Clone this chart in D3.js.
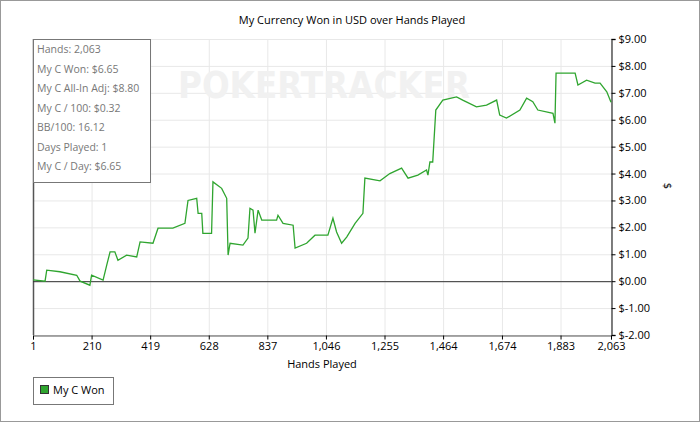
<!DOCTYPE html>
<html><head><meta charset="utf-8">
<script src="https://cdn.jsdelivr.net/npm/d3@7"></script>
<style>body{margin:0;background:#fff}svg{font-family:"DejaVu Sans",sans-serif}</style>
</head><body><svg id="c" width="700" height="422"></svg>
<script>
// hands played / cumulative winnings
const hands = [1,44,50,97,157,169,204,210,251,264,276,293,304,335,371,383,429,447,500,543,554,585,590,603,607,638,643,674,692,697,704,750,768,775,786,793,804,817,870,875,893,929,936,977,1007,1053,1071,1084,1102,1120,1150,1178,1185,1239,1274,1316,1339,1374,1405,1410,1417,1427,1438,1463,1512,1534,1583,1619,1655,1666,1690,1738,1762,1784,1802,1856,1863,1867,1935,1945,1976,2006,2024,2048,2063];
const won =   [0.05,0.0,0.41,0.35,0.22,0.0,-0.15,0.22,0.04,0.6,1.09,1.09,0.78,0.97,0.9,1.46,1.41,1.97,1.97,2.15,3.0,3.08,2.52,2.52,1.78,1.78,3.69,3.45,3.08,0.97,1.41,1.34,1.6,2.71,2.64,1.78,2.64,2.27,2.27,2.45,2.15,2.08,1.23,1.41,1.71,1.71,2.34,1.83,1.41,1.64,2.15,2.52,3.83,3.73,4.0,4.2,3.83,3.94,4.13,3.94,4.43,4.43,6.36,6.73,6.85,6.73,6.48,6.54,6.73,6.17,6.06,6.36,6.8,6.67,6.36,6.24,5.87,7.73,7.73,7.29,7.47,7.36,7.36,7.04,6.65];
const xTicks = [1,210,419,628,837,1046,1255,1464,1674,1883,2063];
const yTicks = [-2,-1,0,1,2,3,4,5,6,7,8,9];
const stats = ["Hands: 2,063","My C Won: $6.65","My C All-In Adj: $8.80","My C / 100: $0.32","BB/100: 16.12","Days Played: 1","My C / Day: $6.65"];

const svg = d3.select("#c");
const m = {left:33, right:611, top:39, bottom:335};
const x = d3.scaleLinear([1,2063],[m.left,m.right]);
const y = d3.scaleLinear([-2,9],[m.bottom,m.top]);
const money = v => (v<0?"$-":"$") + Math.abs(v).toFixed(2);

svg.append("rect").attr("x",0.5).attr("y",0.5).attr("width",699).attr("height",421)
  .attr("fill","#fff").attr("stroke","#999");
svg.append("text").attr("x",352).attr("y",24).attr("text-anchor","middle")
  .attr("font-size",11).attr("font-family","Open Sans").text("My Currency Won in USD over Hands Played");

// grid
svg.append("g").selectAll("line").data(yTicks).join("line")
  .attr("x1",m.left).attr("x2",m.right).attr("y1",d=>y(d)+.5).attr("y2",d=>y(d)+.5)
  .attr("stroke","#e8e8e8");
svg.append("g").selectAll("line").data(xTicks).join("line")
  .attr("y1",m.top).attr("y2",m.bottom).attr("x1",d=>x(d)+.5).attr("x2",d=>x(d)+.5)
  .attr("stroke","#e8e8e8");

// watermark
svg.append("text").attr("x",178).attr("y",98)
  .attr("font-size",38).attr("font-weight","bold").attr("fill","#f1f1f1")
  .attr("textLength",292).attr("lengthAdjust","spacingAndGlyphs").text("POKERTRACKER");

// axes
const ya = svg.append("g").attr("transform",`translate(${m.right+.5},0)`)
  .call(d3.axisRight(y).tickValues(yTicks).tickFormat(money).tickSize(4));
ya.select(".domain").attr("stroke","#555").attr("stroke-width",1.5);
ya.selectAll("text").attr("font-size",11).attr("font-family","Open Sans");
const xa = svg.append("g").attr("transform",`translate(0,${m.bottom+.5})`)
  .call(d3.axisBottom(x).tickValues(xTicks).tickFormat(d3.format(",")).tickSize(4));
xa.select(".domain").attr("stroke","#555");
xa.selectAll("text").attr("font-size",11).attr("font-family","Open Sans");
svg.append("line").attr("x1",m.left+.5).attr("x2",m.left+.5).attr("y1",m.top).attr("y2",m.bottom)
  .attr("stroke","#555").attr("stroke-width",1.5);
svg.append("line").attr("x1",m.left).attr("x2",m.right).attr("y1",y(0)+.5).attr("y2",y(0)+.5)
  .attr("stroke","#333");

svg.append("text").attr("x",322).attr("y",368).attr("text-anchor","middle")
  .attr("font-size",11).attr("font-family","Open Sans").text("Hands Played");
svg.append("text").attr("transform","translate(664,186) rotate(90)").attr("text-anchor","middle")
  .attr("font-size",10).text("$");

// line
svg.append("path").datum(hands.map((h,i)=>[h,won[i]]))
  .attr("fill","none").attr("stroke","#2fa52f").attr("stroke-width",1.3)
  .attr("d",d3.line().x(d=>x(d[0])).y(d=>y(d[1])));

// stats box
svg.append("rect").attr("x",33.5).attr("y",39.5).attr("width",117).attr("height",143)
  .attr("fill","#fff").attr("stroke","#777");
svg.append("g").selectAll("text").data(stats).join("text")
  .attr("x",37).attr("y",(d,i)=>53+i*19.5).attr("font-size",10.5).attr("font-family","Open Sans")
  .attr("fill","#777").text(d=>d);

// legend
svg.append("rect").attr("x",33.5).attr("y",377.5).attr("width",80).attr("height",27)
  .attr("fill","#fff").attr("stroke","#777");
svg.append("rect").attr("x",40.5).attr("y",385.5).attr("width",8).attr("height",8)
  .attr("fill","#2fa52f").attr("stroke","#333");
svg.append("text").attr("x",53).attr("y",394).attr("font-size",11).attr("font-family","Open Sans").text("My C Won");
</script></body></html>
